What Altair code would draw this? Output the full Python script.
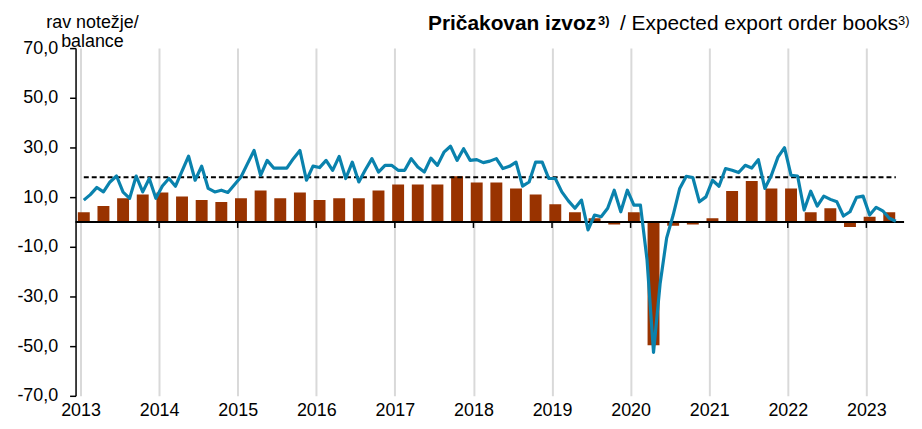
import altair as alt
import pandas as pd

# ---- data ----
start_year = 2013
line_vals = [
    8.8, 11.0, 13.9, 12.1, 16.1, 18.5, 12.0, 9.5, 18.5, 12.1, 17.5, 9.5,      # 2013
    14.5, 17.5, 14.4, 20.5, 26.5, 16.8, 22.5, 13.5, 12.1, 12.8, 11.9, 15.0,   # 2014
    18.1, 23.5, 28.8, 18.8, 24.8, 21.7, 21.7, 21.7, 25.5, 28.8, 16.8, 22.5,   # 2015
    21.9, 24.8, 20.8, 26.4, 17.5, 24.1, 16.1, 21.0, 25.5, 20.1, 22.8, 22.8,   # 2016
    20.8, 20.8, 25.5, 22.1, 20.1, 25.7, 22.8, 28.1, 30.5, 24.8, 29.5, 24.8,   # 2017
    25.1, 23.9, 24.5, 25.5, 21.5, 22.4, 24.1, 14.4, 16.1, 24.1, 24.1, 17.5,   # 2018
    17.5, 12.1, 8.5, 5.5, 8.8, -3.2, 2.8, 2.1, 5.5, 12.8, 4.1, 12.8,          # 2019
    6.8, 6.8, -15.0, -52.5, -25.0, -6.5, 2.8, 13.5, 18.4, 17.9, 8.1, 10.1,    # 2020
    16.8, 14.4, 21.5, 20.8, 19.9, 22.8, 21.7, 25.1, 13.5, 18.8, 26.1, 29.9,   # 2021
    18.8, 18.5, 4.8, 12.4, 6.4, 10.4, 9.1, 8.1, 2.4, 4.1, 9.9, 10.4,          # 2022
    2.8, 5.9, 4.5, 1.5, 0.3,                                                  # 2023
]
bar_vals = [
    3.9, 6.4, 9.5, 11.1,      # 2013
    11.9, 10.3, 8.8, 8.0,     # 2014
    9.5, 12.7, 9.5, 11.9,     # 2015
    8.8, 9.5, 9.5, 12.7,      # 2016
    15.1, 15.1, 15.1, 18.4,   # 2017
    15.9, 15.9, 13.5, 11.1,   # 2018
    7.1, 3.9, 1.5, -1.0,      # 2019
    3.9, -49.6, -1.5, -1.0,   # 2020
    1.5, 12.5, 16.5, 13.5,    # 2021
    13.5, 3.9, 5.5, -2.0,     # 2022
    2.1, 3.9,                 # 2023
]
avg_val = 18.0
year_ticks = list(range(2013, 2024))
y_ticks = [-70, -50, -30, -10, 10, 30, 50, 70]
y_title_lines = ["rav notežje/", "balance"]
title_bold = ["Pričakovan izvoz"]
title_reg = ["/ Expected export order books"]
title_sup = ["3)"]

# ---- tables ----
line_df = pd.DataFrame({
    "t": [start_year + (i + 0.5) / 12 for i in range(len(line_vals))],
    "v": line_vals,
})
line_df["avg"] = avg_val
bar_df = pd.DataFrame({
    "t": [start_year + (3 * k + 0.5) / 12 for k in range(len(bar_vals))],
    "v": bar_vals,
})
year_df = pd.DataFrame({"t": year_ticks[1:]})
zero_df = pd.DataFrame({"v": [0]})

FONT = "Liberation Sans"
x_scale = alt.Scale(domain=[2013, 2023 + 5 / 12], nice=False, zero=False)
y_scale = alt.Scale(domain=[-70, 70], nice=False, zero=False)

x_axis = alt.Axis(values=year_ticks, format="d", grid=True, gridColor="#d9d9d9",
                  gridWidth=2, ticks=False, domain=False, labelFontSize=18,
                  labelPadding=6, labelFlush=False, labelOverlap=False,
                  labelColor="black", labelFont=FONT, title=None)
y_axis = alt.Axis(values=y_ticks, grid=False, domainColor="black", domainWidth=1.5,
                  tickColor="black", tickSize=6, tickWidth=1.5, labelFontSize=18,
                  labelPadding=12, labelColor="black", labelFont=FONT, title=None,
                  labelExpr="replace(replace(format(datum.value, '.1f'), '.', ','), '\u2212', '-')")

X = lambda f: alt.X(f, scale=x_scale, axis=x_axis)
Y = lambda f: alt.Y(f, scale=y_scale, axis=y_axis)

bars = alt.Chart(bar_df).mark_bar(size=12, color="#993300", clip=True).encode(
    x=X("t:Q"), y=Y("v:Q"),
)

zero_rule = alt.Chart(zero_df).mark_rule(color="black", strokeWidth=2).encode(
    y=Y("v:Q")
)

year_marks = alt.Chart(year_df).transform_calculate(
    a="0", b="-2.4"
).mark_rule(color="black", strokeWidth=1.5).encode(
    x=X("t:Q"), y=Y("a:Q"), y2="b:Q",
)

avg_line = alt.Chart(line_df).mark_line(color="black", strokeWidth=1.8,
                                        strokeDash=[5, 3]).encode(
    x=X("t:Q"), y=Y("avg:Q"),
)

main_line = alt.Chart(line_df).mark_line(color="#0a82ad", strokeWidth=3.2,
                                         strokeJoin="round").encode(
    x=X("t:Q"), y=Y("v:Q"),
)

def text_layer(lst, x, y, size, weight="normal", align="left"):
    return alt.Chart(pd.DataFrame({"s": lst})).mark_text(
        font=FONT, fontSize=size, fontWeight=weight, align=align,
        baseline="alphabetic", color="black"
    ).encode(text="s:N", x=alt.value(x), y=alt.value(y))

ytitle1 = text_layer([y_title_lines[0]], 17, -20, 18, align="center")
ytitle2 = text_layer([y_title_lines[1]], 17, -1, 18, align="center")
t_bold = text_layer(title_bold, 524, -18, 21, weight="bold", align="right")
t_sup1 = text_layer(title_sup, 526, -23, 13, weight="bold")
t_reg = text_layer(title_reg, 548, -18, 21, align="left")
t_sup2 = text_layer(title_sup, 828, -23, 13)

chart = alt.layer(
    bars, zero_rule, year_marks, avg_line, main_line,
    ytitle1, ytitle2, t_bold, t_sup1, t_reg, t_sup2,
).properties(
    width=834, height=350,
    autosize=alt.AutoSizeParams(type="none"),
    padding={"left": 68, "top": 39, "right": 10, "bottom": 28},
).configure(font=FONT).configure_view(stroke=None)

chart.save("out.html", embed_options={"renderer": "svg", "actions": False})
